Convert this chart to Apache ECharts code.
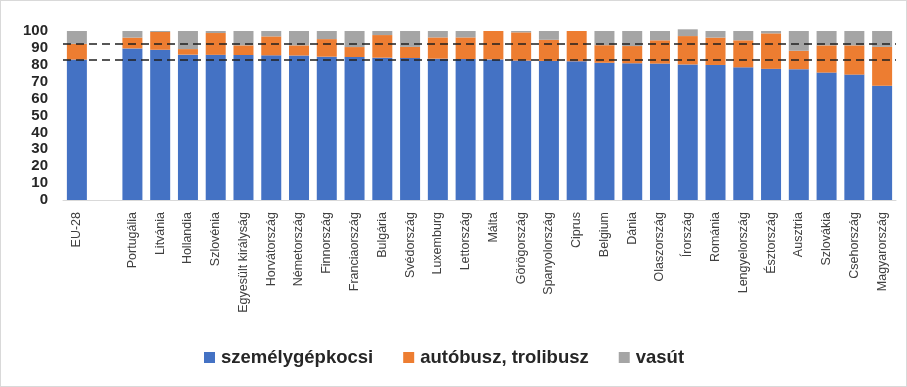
<!DOCTYPE html>
<html>
<head>
<meta charset="utf-8">
<script src="https://cdn.jsdelivr.net/npm/echarts@6/dist/echarts.min.js"></script>
<style>
  html, body { margin: 0; padding: 0; background: #fff; }
  #chart { width: 905px; height: 385px; border: 1px solid #d9d9d9; }
</style>
</head>
<body>
<div id="chart"></div>
<script>
// Modal split of passenger land transport (%), EU-28 first, then countries by car share
const countries = [
  'EU-28', '', 'Portugália', 'Litvánia', 'Hollandia', 'Szlovénia', 'Egyesült királyság',
  'Horvátország', 'Németország', 'Finnország', 'Franciaország', 'Bulgária', 'Svédország',
  'Luxemburg', 'Lettország', 'Málta', 'Görögország', 'Spanyolország', 'Ciprus', 'Belgium',
  'Dánia', 'Olaszország', 'Írország', 'Románia', 'Lengyelország', 'Észtország', 'Ausztria',
  'Szlovákia', 'Csehország', 'Magyarország'
];
const car = [
  83.1, null, 89.7, 88.9, 86.0, 85.9, 85.8,
  85.6, 85.5, 84.8, 84.6, 84.2, 84.0,
  83.6, 83.4, 83.2, 82.5, 82.3, 82.1, 81.2,
  80.9, 80.7, 80.2, 79.9, 78.5, 77.6, 77.4,
  75.4, 74.2, 67.6
];
const bus = [
  9.3, null, 6.4, 10.5, 3.3, 12.9, 5.7,
  11.2, 6.0, 10.4, 5.9, 13.4, 6.6,
  12.6, 12.8, 16.8, 16.7, 12.5, 17.9, 10.4,
  10.2, 13.8, 16.8, 16.2, 16.0, 21.0, 10.9,
  16.1, 17.3, 23.0
];
const rail = [
  7.6, null, 3.9, 0.6, 10.7, 1.2, 8.5,
  3.2, 8.5, 4.8, 9.5, 2.4, 9.4,
  3.8, 3.8, 0.0, 0.8, 5.2, 0.0, 8.4,
  8.9, 5.5, 4.0, 3.9, 5.5, 1.4, 11.7,
  8.5, 8.5, 9.4
];
const seriesNames = ['személygépkocsi', 'autóbusz, trolibusz', 'vasút'];
const colors = ['#4472C4', '#ED7D31', '#A5A5A5'];

// EU-28 reference levels drawn as dashed lines across the plot
const euCarLevel = car[0];
const euCarBusLevel = +(car[0] + bus[0]).toFixed(1);

const chart = echarts.init(document.getElementById('chart'), null, { renderer: 'canvas' });

function barSeries(name, values, idx, extra) {
  return Object.assign({
    name: name,
    type: 'bar',
    stack: 'total',
    data: values,
    barWidth: 20,
    clip: false,
    itemStyle: { color: colors[idx] },
    emphasis: { disabled: true }
  }, extra || {});
}

chart.setOption({
  animation: false,
  textStyle: { fontFamily: '"Liberation Sans", Arial, sans-serif' },
  color: colors,
  grid: { left: 62, right: 10, top: 30, bottom: 186, containLabel: false },
  legend: {
    bottom: 14,
    left: 198,
    itemWidth: 11,
    itemHeight: 11,
    itemGap: 30,
    icon: 'rect',
    textStyle: { fontSize: 18.5, fontWeight: 'bold', color: '#262626', padding: [0, 0, 0, 1] },
    data: seriesNames
  },
  xAxis: {
    type: 'category',
    data: countries,
    boundaryGap: true,
    axisLine: { show: true, lineStyle: { color: '#d9d9d9', width: 1 } },
    axisTick: { show: false },
    axisLabel: {
      rotate: 90,
      interval: 0,
      margin: 12,
      fontSize: 12.5,
      color: '#404040'
    }
  },
  yAxis: {
    type: 'value',
    min: 0,
    max: 100,
    interval: 10,
    splitLine: { show: false },
    axisLine: { show: false },
    axisTick: { show: false },
    axisLabel: { fontSize: 15, fontWeight: 'bold', color: '#262626', margin: 15 }
  },
  series: [
    barSeries(seriesNames[0], car, 0),
    barSeries(seriesNames[1], bus, 1),
    barSeries(seriesNames[2], rail, 2, {
      markLine: {
        silent: true,
        symbol: 'none',
        z: 10,
        label: { show: false },
        lineStyle: { color: '#1f1f1f', width: 1.5, type: [8, 5] },
        data: [{ yAxis: euCarLevel }, { yAxis: euCarBusLevel }]
      }
    })
  ]
});
</script>
</body>
</html>
